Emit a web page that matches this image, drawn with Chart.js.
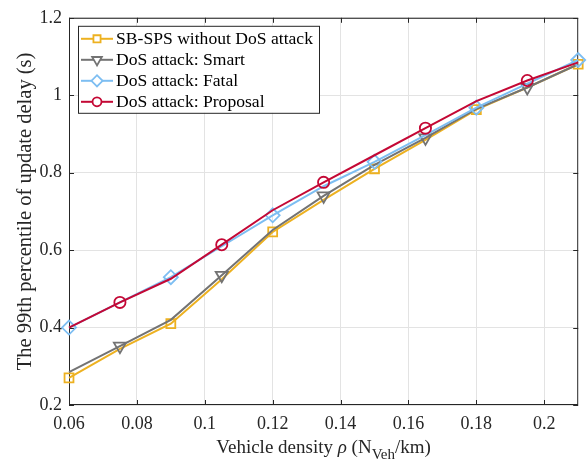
<!DOCTYPE html>
<html>
<head>
<meta charset="utf-8">
<script src="https://cdn.jsdelivr.net/npm/chart.js@4"></script>
<style>
  html, body { margin: 0; padding: 0; background: #fff; }
  #wrap { width: 587px; height: 471px; }
</style>
</head>
<body>
<div id="wrap"><canvas id="chart" width="587" height="471"></canvas></div>
<script>
/* chart data */
const density = [0.06, 0.075, 0.09, 0.105, 0.12, 0.135, 0.15, 0.165, 0.18, 0.195, 0.21];
const noAttack = [0.27, 0.345, 0.41, 0.525, 0.647, 0.73, 0.81, 0.885, 0.963, 1.02, 1.08];
const smart = [0.285, 0.352, 0.42, 0.535, 0.652, 0.74, 0.82, 0.89, 0.965, 1.02, 1.08];
const fatal = [0.40, 0.465, 0.53, 0.61, 0.69, 0.765, 0.828, 0.897, 0.968, 1.03, 1.091];
const proposal = [0.40, 0.465, 0.526, 0.614, 0.703, 0.775, 0.845, 0.915, 0.985, 1.038, 1.085];
const xTicks = [0.06, 0.08, 0.1, 0.12, 0.14, 0.16, 0.18, 0.2];
const yTicks = [0.2, 0.4, 0.6, 0.8, 1, 1.2];

const FONT = "'Liberation Serif', 'Times New Roman', serif";

function pts(values) {
    return values.map((v, i) => ({x: density[i], y: v}));
}

/* markers sit on every other point; phase says which ones */
function series(label, values, color, style, rotation, radius, phase, order) {
    return {
        label: label,
        data: pts(values),
        borderColor: color,
        backgroundColor: color,
        borderWidth: 2,
        pointStyle: style,
        rotation: rotation,
        markerRadius: radius,
        pointRadius: (c) => (c.dataIndex % 2 === phase ? radius : 0),
        pointHoverRadius: (c) => (c.dataIndex % 2 === phase ? radius : 0),
        pointBorderWidth: 1.8,
        pointBackgroundColor: "rgba(255,255,255,0)",
        pointBorderColor: color,
        tension: 0,
        clip: false,
        order: order,
    };
}

const datasets = [
    series("SB-SPS without DoS attack", noAttack, "#EDB120", "rect", 0, 6.3, 0, 4),
    series("DoS attack: Smart", smart, "#737373", "triangle", 180, 7, 1, 3),
    series("DoS attack: Fatal", fatal, "#7DBEF2", "rectRot", 0, 7, 0, 2),
    series("DoS attack: Proposal", proposal, "#C40835", "circle", 0, 5.6, 1, 1),
];

/* box, inward ticks, legend and x title drawn on top */
const framePlugin = {
    id: "frame",
    beforeDatasetsDraw(chart) {
        const ctx = chart.ctx;
        const a = chart.chartArea;
        const xs = chart.scales.x;
        const ys = chart.scales.y;
        ctx.save();
        ctx.strokeStyle = "#262626";
        ctx.lineWidth = 1;
        ctx.strokeRect(a.left + 0.5, a.top + 0.5, a.right - a.left - 1, a.bottom - a.top - 1);
        ctx.beginPath();
        xTicks.forEach((t) => {
            const px = Math.round(xs.getPixelForValue(t)) + 0.5;
            ctx.moveTo(px, a.bottom); ctx.lineTo(px, a.bottom - 5);
            ctx.moveTo(px, a.top); ctx.lineTo(px, a.top + 5);
        });
        yTicks.forEach((t) => {
            const py = Math.round(ys.getPixelForValue(t)) + 0.5;
            ctx.moveTo(a.left, py); ctx.lineTo(a.left + 5, py);
            ctx.moveTo(a.right, py); ctx.lineTo(a.right - 5, py);
        });
        ctx.stroke();
        ctx.restore();
    },
    afterDatasetsDraw(chart) {
        const ctx = chart.ctx;
        const a = chart.chartArea;
        ctx.save();

        // legend
        const lx = a.left + 9, ly = a.top + 8, lw = 241, lh = 87;
        ctx.fillStyle = "#fff";
        ctx.fillRect(lx, ly, lw, lh);
        ctx.strokeStyle = "#262626";
        ctx.lineWidth = 1;
        ctx.strokeRect(lx + 0.5, ly + 0.5, lw, lh);
        ctx.font = "17.6px " + FONT;
        ctx.textBaseline = "middle";
        chart.data.datasets.forEach((ds, i) => {
            const cy = ly + 13 + i * 21;
            ctx.strokeStyle = ds.borderColor;
            ctx.lineWidth = 2;
            ctx.beginPath();
            ctx.moveTo(lx + 3, cy); ctx.lineTo(lx + 35, cy);
            ctx.stroke();
            ctx.lineWidth = 1.8;
            ctx.fillStyle = "#fff";
            Chart.helpers.drawPoint(ctx, {
                pointStyle: ds.pointStyle,
                rotation: ds.rotation,
                radius: ds.markerRadius * 0.8,
                borderWidth: 1.8,
            }, lx + 19, cy);
            ctx.fillStyle = "#000";
            ctx.fillText(ds.label, lx + 38, cy + 1);
        });

        // x title with subscript
        ctx.fillStyle = "#262626";
        ctx.textBaseline = "alphabetic";
        const parts = [
            ["Vehicle density ", "19px " + FONT, 0],
            ["\u03C1", "italic 19px " + FONT, 0],
            [" (N", "19px " + FONT, 0],
            ["Veh", "15px " + FONT, 6],
            ["/km)", "19px " + FONT, 0],
        ];
        let total = 0;
        parts.forEach((p) => { ctx.font = p[1]; total += ctx.measureText(p[0]).width; });
        let x = (a.left + a.right) / 2 - total / 2;
        const base = 453;
        parts.forEach((p) => {
            ctx.font = p[1];
            ctx.fillText(p[0], x, base + p[2]);
            x += ctx.measureText(p[0]).width;
        });
        ctx.restore();
    }
};

new Chart(document.getElementById("chart"), {
    type: "line",
    data: {datasets: datasets},
    plugins: [framePlugin],
    options: {
        responsive: false,
        animation: false,
        layout: {padding: {top: 14, right: 8, left: 13, bottom: 0}},
        plugins: {
            legend: {display: false},
            tooltip: {enabled: false},
        },
        scales: {
            x: {
                type: "linear",
                min: 0.06,
                max: 0.21,
                afterBuildTicks: (scale) => { scale.ticks = xTicks.map((v) => ({value: v})); },
                afterFit: (scale) => { scale.height = 66; },
                grid: {color: "#e3e3e3", lineWidth: 1, drawTicks: false},
                border: {display: false},
                ticks: {
                    padding: 8,
                    color: "#262626",
                    font: {family: FONT, size: 18},
                    maxRotation: 0,
                    callback: (v) => String(Math.round(v * 100) / 100),
                },
            },
            y: {
                min: 0.2,
                max: 1.2,
                afterBuildTicks: (scale) => { scale.ticks = yTicks.map((v) => ({value: v})); },
                afterFit: (scale) => { scale.width = 56; },
                grid: {color: "#e3e3e3", lineWidth: 1, drawTicks: false},
                border: {display: false},
                title: {
                    display: true,
                    text: "The 99th percentile of update delay (s)",
                    color: "#262626",
                    font: {family: FONT, size: 20.5},
                    padding: {top: 0, bottom: 0},
                },
                ticks: {
                    padding: 7,
                    color: "#262626",
                    font: {family: FONT, size: 18},
                    callback: (v) => String(Math.round(v * 10) / 10),
                },
            },
        },
    },
});
</script>
</body>
</html>
